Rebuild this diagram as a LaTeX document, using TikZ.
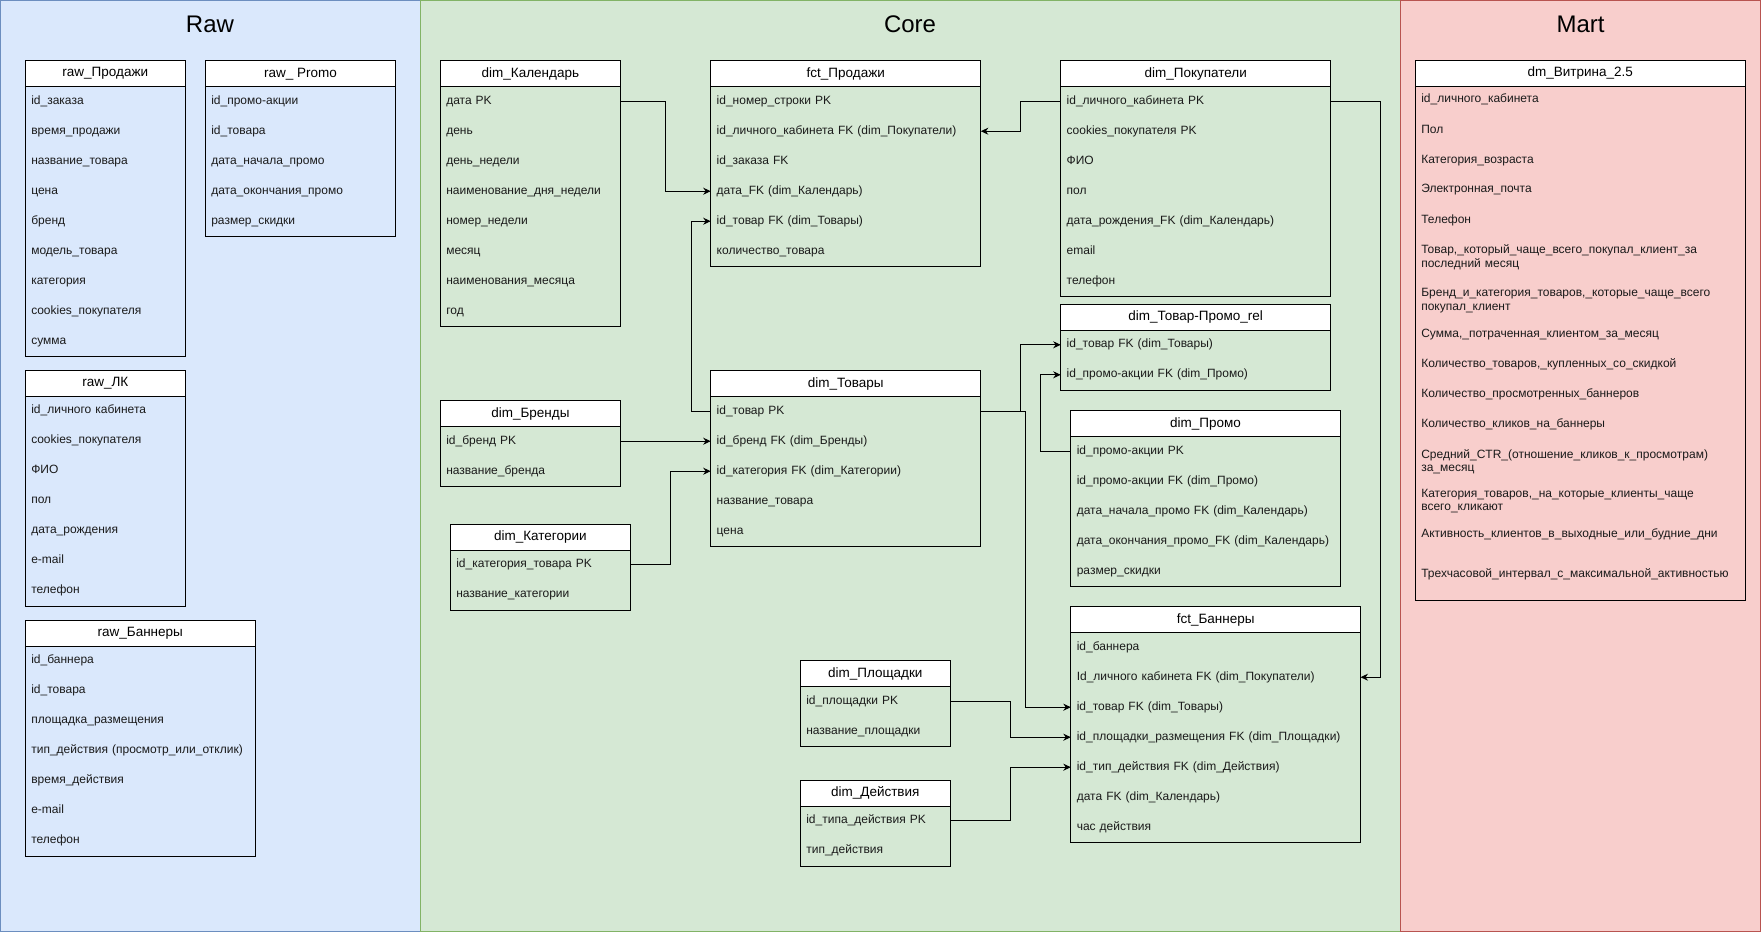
\documentclass[tikz,border=0pt]{standalone}
\usepackage{fontspec}
\setmainfont{Liberation Sans}
\usetikzlibrary{arrows.meta}
\definecolor{rawfill}{HTML}{DAE8FC}
\definecolor{rawline}{HTML}{6C8EBF}
\definecolor{corefill}{HTML}{D5E8D4}
\definecolor{coreline}{HTML}{82B366}
\definecolor{martfill}{HTML}{F8CECC}
\definecolor{martline}{HTML}{B85450}
\definecolor{txt}{HTML}{1A1A1A}
\tikzset{
  hdr/.style={draw, fill=white, line width=1pt, minimum height=26pt, inner sep=0pt, outer sep=0pt, anchor=north west, font=\fontsize{13.5}{16}\selectfont},
  rowtxt/.style={inner xsep=6pt, inner ysep=0pt, outer sep=0pt, align=left, text=txt, font=\fontsize{12}{13.7}\selectfont, text height=9pt, text depth=3pt},
  vrow/.style={inner xsep=6pt, inner ysep=0pt, outer sep=0pt, align=left, text=txt, font=\fontsize{12}{13.7}\selectfont, text width=318pt},
  body/.style={draw, line width=1pt},
  conn/.style={line width=1pt, -{Stealth[length=7.5pt,width=7pt]}},
  paneltitle/.style={font=\fontsize{24}{28}\selectfont, inner sep=0pt},
}
\newcommand{\erdtable}[7]{%
  \pgfmathsetmacro{\erdtw}{#4-12}%
  \node[hdr, minimum width=#4pt] (#1) at (#2,#3) {#5};
  \draw[body] (#1.south west) rectangle ++(#4,{30*#6});
  \foreach \rowtext [count=\i] in {#7} {
    \node[rowtxt, text width=\erdtw pt] (#1-\i) at ({#2+#4/2},{#3+26+30*(\i-1)+14.5}) {\rowtext};
  }
}
\begin{document}
\begin{tikzpicture}[x=1pt, y=-1pt]
\useasboundingbox (0,0) rectangle (1761,932);
% panels
\draw[fill=rawfill, draw=rawline, line width=1pt] (0.5,0.5) rectangle (420,931.5);
\draw[fill=corefill, draw=coreline, line width=1pt] (420,0.5) rectangle (1400.5,931.5);
\draw[fill=martfill, draw=martline, line width=1pt] (1400.5,0.5) rectangle (1760.5,931.5);
\node[paneltitle] (rawtitle) at (210,24) {Raw};
\node[paneltitle] (coretitle) at (910,24) {Core};
\node[paneltitle] (marttitle) at (1580.5,24) {Mart};
% Raw
\erdtable{rp}{25.3}{60.7}{160}{raw\_Продажи}{9}{id\_заказа, время\_продажи, название\_товара, цена, бренд, модель\_товара, категория, cookies\_покупателя, сумма}
\erdtable{rpr}{205.3}{60.7}{190.4}{raw\_ Promo}{5}{id\_промо-акции, id\_товара, дата\_начала\_промо, дата\_окончания\_промо, размер\_скидки}
\erdtable{rlk}{25.3}{370.3}{160}{raw\_ЛК}{7}{id\_личного кабинета, cookies\_покупателя, ФИО, пол, дата\_рождения, e-mail, телефон}
\erdtable{rb}{25.3}{620.3}{230}{raw\_Баннеры}{7}{id\_баннера, id\_товара, площадка\_размещения, тип\_действия (просмотр\_или\_отклик), время\_действия, e-mail, телефон}
% Core
\erdtable{cal}{440.3}{60.7}{180.2}{dim\_Календарь}{8}{дата PK, день, день\_недели, наименование\_дня\_недели, номер\_недели, месяц, наименования\_месяца, год}
\erdtable{fp}{710.7}{60.7}{270.1}{fct\_Продажи}{6}{id\_номер\_строки PK, id\_личного\_кабинета FK (dim\_Покупатели), id\_заказа FK, дата\_FK (dim\_Календарь), id\_товар FK (dim\_Товары), количество\_товара}
\erdtable{cust}{1060.7}{60.7}{270}{dim\_Покупатели}{7}{id\_личного\_кабинета PK, cookies\_покупателя PK, ФИО, пол, дата\_рождения\_FK (dim\_Календарь), email, телефон}
\erdtable{rel}{1060.7}{304.3}{270}{dim\_Товар-Промо\_rel}{2}{id\_товар FK (dim\_Товары), id\_промо-акции FK (dim\_Промо)}
\erdtable{br}{440.3}{400.7}{180.2}{dim\_Бренды}{2}{id\_бренд PK, название\_бренда}
\erdtable{cat}{450.3}{524.3}{180.2}{dim\_Категории}{2}{id\_категория\_товара PK, название\_категории}
\erdtable{tov}{710.7}{370.7}{270.1}{dim\_Товары}{5}{id\_товар PK, id\_бренд FK (dim\_Бренды), id\_категория FK (dim\_Категории), название\_товара, цена}
\erdtable{promo}{1070.8}{410.7}{269.4}{dim\_Промо}{5}{id\_промо-акции PK, id\_промо-акции FK (dim\_Промо), дата\_начала\_промо FK (dim\_Календарь), дата\_окончания\_промо\_FK (dim\_Календарь), размер\_скидки}
\erdtable{fb}{1070.8}{606.7}{289.7}{fct\_Баннеры}{7}{id\_баннера, Id\_личного кабинета FK (dim\_Покупатели), id\_товар FK (dim\_Товары), id\_площадки\_размещения FK (dim\_Площадки), id\_тип\_действия FK (dim\_Действия), дата FK (dim\_Календарь), час действия}
\erdtable{pl}{800.3}{660.7}{150}{dim\_Площадки}{2}{id\_площадки PK, название\_площадки}
\erdtable{act}{800.3}{780.3}{150}{dim\_Действия}{2}{id\_типа\_действия PK, тип\_действия}
% Mart
\node[hdr, minimum width=330pt, minimum height=25.6pt] (vit) at (1415.3,60.7) {dm\_Витрина\_2.5};
\draw[body] (vit.south west) rectangle (1745.3,600.4);
\node[vrow] (vit-1) at (1580.3,99.2) {id\_личного\_кабинета};
\node[vrow] (vit-2) at (1580.3,129.9) {Пол};
\node[vrow] (vit-3) at (1580.3,160.2) {Категория\_возраста};
\node[vrow] (vit-4) at (1580.3,189.8) {Электронная\_почта};
\node[vrow] (vit-5) at (1580.3,220.1) {Телефон};
\node[vrow] (vit-6) at (1580.3,257) {Товар,\_который\_чаще\_всего\_покупал\_клиент\_за\\последний месяц};
\node[vrow] (vit-7) at (1580.3,300.8) {Бренд\_и\_категория\_товаров,\_которые\_чаще\_всего\\покупал\_клиент};
\node[vrow] (vit-8) at (1580.3,334.8) {Сумма,\_потраченная\_клиентом\_за\_месяц};
\node[vrow] (vit-9) at (1580.3,364.4) {Количество\_товаров,\_купленных\_со\_скидкой};
\node[vrow] (vit-10) at (1580.3,394.4) {Количество\_просмотренных\_баннеров};
\node[vrow] (vit-11) at (1580.3,424.7) {Количество\_кликов\_на\_баннеры};
\node[vrow] (vit-12) at (1580.3,461.7) {Средний\_CTR\_(отношение\_кликов\_к\_просмотрам)\\за\_месяц};
\node[vrow] (vit-13) at (1580.3,501) {Категория\_товаров,\_на\_которые\_клиенты\_чаще\\всего\_кликают};
\node[vrow] (vit-14) at (1580.3,534.6) {Активность\_клиентов\_в\_выходные\_или\_будние\_дни};
\node[vrow] (vit-15) at (1580.3,573.8) {Трехчасовой\_интервал\_с\_максимальной\_активностью};
% connectors
\draw[conn] (cal-1.east) -- ++(44.7,0) |- (fp-4.west);
\draw[conn] (tov-1.west) -- ++(-19.6,0) |- (fp-5.west);
\draw[conn] (cust-1.west) -- ++(-39.8,0) |- (fp-2.east);
\draw[conn] (br-1.east) -- (tov-2.west);
\draw[conn] (cat-1.east) -- ++(40.3,0) |- (tov-3.west);
\draw[conn] (tov-1.east) -- ++(39.5,0) |- (rel-1.west);
\draw[conn] (tov-1.east) -- ++(44.5,0) |- (fb-3.west);
\draw[conn] (promo-1.west) -- ++(-30.1,0) |- (rel-2.west);
\draw[conn] (pl-1.east) -- ++(60.4,0) |- (fb-4.west);
\draw[conn] (act-1.east) -- ++(60.4,0) |- (fb-5.west);
\draw[conn] (cust-1.east) -- ++(49.6,0) |- (fb-2.east);
\end{tikzpicture}
\end{document}
